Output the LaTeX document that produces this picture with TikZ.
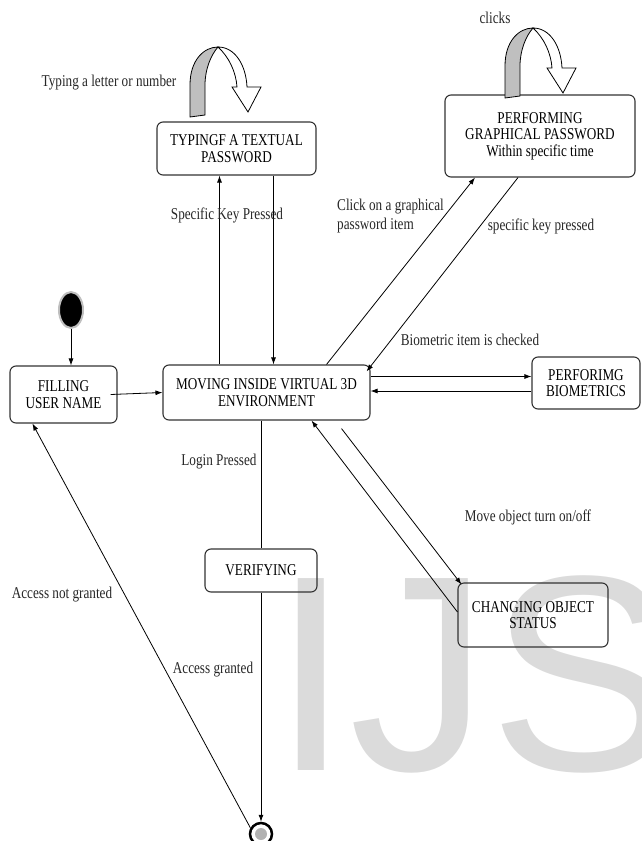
\documentclass[tikz,border=0pt]{standalone}
\usepackage{fontspec}
\setmainfont{Liberation Serif}[FakeStretch=0.8]
\newfontfamily\markfont{Liberation Sans}
\usetikzlibrary{
  arrows.meta,
  shapes.geometric
}

\tikzset{
  statebox/.style={draw=black!80, line width=1.1pt, rounded corners=6pt, align=center,
    inner sep=0pt, font=\fontsize{16.5}{16.5}\selectfont},
  lbl/.style={inner sep=0pt, align=left, text=black!85, font=\fontsize{16.5}{19}\selectfont},
  trans/.style={-{Latex[length=7pt,width=5pt]}, line width=0.8pt},
  loopribbon/.pic={
    \filldraw[fill=black!25, line width=0.8pt] (0,0) -- (0,-32) .. controls (0,-57) and (14,-70) .. (28,-70)
      .. controls (21,-62) and (15,-48) .. (15,-32) -- (15,-2) -- cycle;
    \filldraw[fill=white, line width=0.8pt] (28,-70) .. controls (45,-70) and (56,-52) .. (57,-30)
      -- (71,-30) -- (58,-5) -- (42,-30) -- (47,-30) .. controls (46,-45) and (39,-60) .. (28,-70) -- cycle;
  }
}

\begin{document}
\begin{tikzpicture}[x=1pt, y=-1pt]
  \useasboundingbox (0,0) rectangle (641,841);
  % watermark
  \node[anchor=base west, inner sep=0pt, text=black!14, font=\markfont\fontsize{279}{279}\selectfont] (mark) at (272,770) {IJS};

  % states
  \node[ellipse, fill=black, draw=black!25, line width=2pt, minimum width=24pt, minimum height=36pt, inner sep=0pt] (start) at (71,310) {};
  \node[statebox, minimum width=107pt, minimum height=57pt] (filling) at (63.5,394.5) {FILLING\\USER NAME};
  \node[statebox, minimum width=207pt, minimum height=55pt] (moving) at (266.5,392.5) {MOVING INSIDE VIRTUAL 3D\\ENVIRONMENT};
  \node[statebox, minimum width=159pt, minimum height=53pt] (typing) at (236.5,148.5) {TYPINGF A TEXTUAL\\PASSWORD};
  \node[statebox, minimum width=190pt, minimum height=82pt] (graph) at (540,136) {PERFORMING\\GRAPHICAL PASSWORD\\Within specific time};
  \node[statebox, minimum width=108pt, minimum height=52pt] (bio) at (586,383) {PERFORIMG\\BIOMETRICS};
  \node[statebox, minimum width=112pt, minimum height=43pt] (verify) at (261,570.5) {VERIFYING};
  \node[statebox, minimum width=150pt, minimum height=64pt] (change) at (533,615) {CHANGING OBJECT\\STATUS};
  \node[circle, draw, line width=2.5pt, minimum size=22pt, inner sep=0pt] (final) at (261,834) {};
  \fill[black!30] (final) circle (6pt);

  % self loops
  \pic at (190,117) {loopribbon};
  \pic at (505,98) {loopribbon};

  % transitions
  \draw[trans] (start.south) -- (start.south |- filling.north);
  \draw[trans] ([xshift=-7pt]filling.east) -- (moving.west);
  \draw[trans] ([xshift=-47pt]moving.north) -- ([xshift=-17pt]typing.south);
  \draw[trans] ([xshift=37pt]typing.south) -- ([xshift=7pt]moving.north);
  \draw[trans] ([xshift=60pt]moving.north) -- ([xshift=-65pt]graph.south);
  \draw[trans] ([xshift=-22pt]graph.south) -- ([xshift=-4pt,yshift=-7pt]moving.north east);
  \draw[trans] ([yshift=16pt]moving.east) -- ([yshift=16pt]moving.east -| bio.west);
  \draw[trans] ([yshift=-8pt]bio.west) -- ([yshift=-8pt]bio.west -| moving.east);
  \draw[trans] ([yshift=3pt]change.west) -- ([xshift=45pt]moving.south);
  \draw[trans] ([xshift=75pt,yshift=-8pt]moving.south) -- ([xshift=4pt,yshift=-2pt]change.north west);
  \draw[line width=0.8pt] (moving.south -| verify.north) -- (verify.north);
  \draw[trans] (verify.south) -- (final.north);
  \draw[trans] (final.150) -- ([xshift=23pt]filling.south west);

  % labels
  \node[lbl] (lbltyping) at (109,83) {Typing a letter or number};
  \node[lbl] (lblclicks) at (495,18) {clicks};
  \node[lbl] (lblkey) at (227,215) {Specific Key Pressed};
  \node[lbl, anchor=west] (lblclick) at (337,216) {Click on a graphical\\password item};
  \node[lbl] (lblspec) at (541,226) {specific key pressed};
  \node[lbl] (lblbio) at (470,340) {Biometric item is checked};
  \node[lbl] (lblmove) at (528,517) {Move object turn on/off};
  \node[lbl] (lbllogin) at (219,462) {Login Pressed};
  \node[lbl] (lblgranted) at (213,670) {Access granted};
  \node[lbl] (lblnot) at (62,595) {Access not granted};
\end{tikzpicture}
\end{document}
